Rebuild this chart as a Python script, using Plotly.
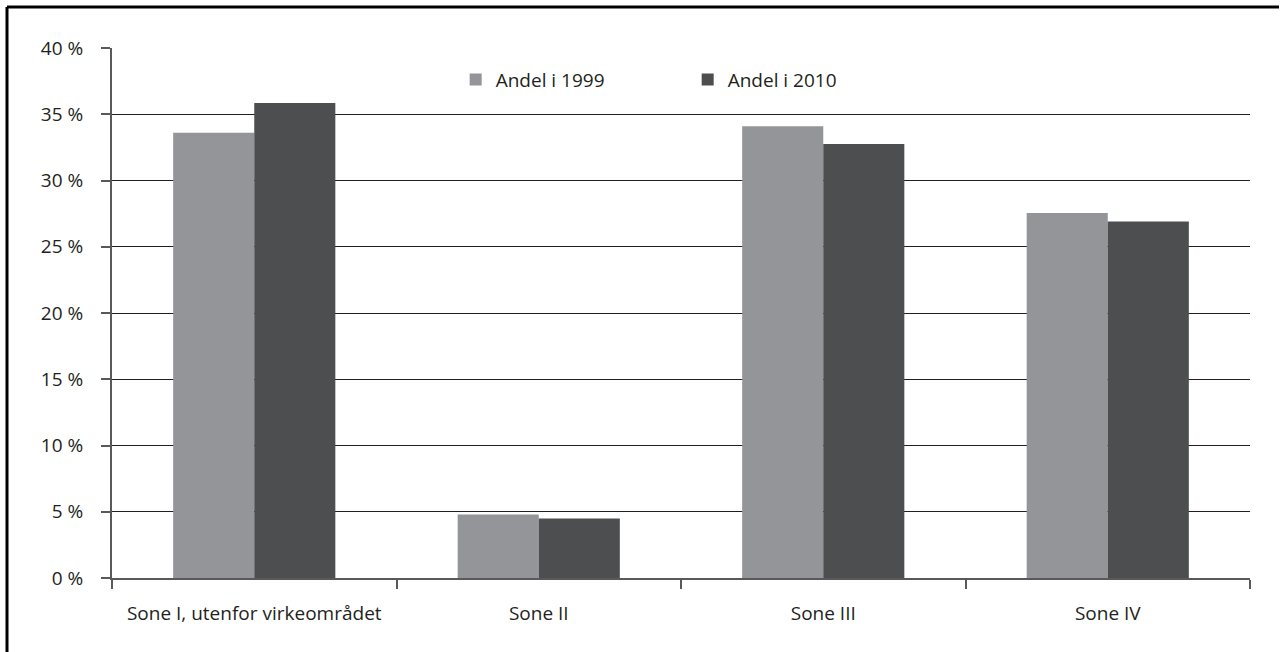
import plotly.graph_objects as go

categories = ["Sone I, utenfor virkeområdet", "Sone II", "Sone III", "Sone IV"]
andel_1999 = [33.6, 4.8, 34.1, 27.55]
andel_2010 = [35.85, 4.5, 32.75, 26.9]
series_names = ["Andel i 1999", "Andel i 2010"]
y_ticks = [0, 5, 10, 15, 20, 25, 30, 35, 40]
y_tick_labels = [f"{v} %" for v in y_ticks]

W, H = 1284, 652
ml, mr, mt, mb = 112, 34, 48, 74
pw, ph = W - ml - mr, H - mt - mb

FAM = "Open Sans, Noto Sans, sans-serif"
TXT = "#231f20"
FS = 19

fig = go.Figure()
fig.add_trace(go.Bar(x=categories, y=andel_1999, name=series_names[0],
                     marker=dict(color="#939598", line=dict(width=0))))
fig.add_trace(go.Bar(x=categories, y=andel_2010, name=series_names[1],
                     marker=dict(color="#4d4e50", line=dict(width=0))))

fig.update_layout(
    width=W, height=H,
    margin=dict(l=ml, r=mr, t=mt, b=mb),
    paper_bgcolor="white", plot_bgcolor="white",
    barmode="group", bargap=0.43, bargroupgap=0,
    font=dict(family=FAM, size=FS, color=TXT),
    showlegend=True,
    legend=dict(orientation="h", x=0.302, y=0.976, xanchor="left", yanchor="top",
                entrywidth=187, entrywidthmode="pixels",
                font=dict(family=FAM, size=FS, color=TXT),
                bgcolor="rgba(0,0,0,0)", itemwidth=30, traceorder="normal"),
    xaxis=dict(showline=True, linecolor="#58595b", linewidth=2,
               ticks="outside", tickson="boundaries", ticklen=9, tickwidth=2,
               tickcolor="#58595b", showgrid=False, ticklabelstandoff=17,
               tickfont=dict(family=FAM, size=FS, color=TXT)),
    yaxis=dict(range=[0, 40], tickmode="array", tickvals=y_ticks, ticktext=y_tick_labels,
               showline=True, linecolor="#58595b", linewidth=2,
               ticks="outside", ticklen=9, tickwidth=1.5, tickcolor="#58595b",
               showgrid=True, gridcolor="#231f20", gridwidth=1.2,
               zeroline=False, ticklabelstandoff=14,
               tickfont=dict(family=FAM, size=FS, color=TXT)),
)

# outer frame (top and left edges visible)
x_left = (7 - ml) / pw
x_right = (1279 - ml) / pw
y_top = 1 + (mt - 7) / ph
y_bottom = -(mb + 5) / ph
fig.add_shape(type="line", xref="paper", yref="paper", x0=x_left, x1=x_right,
              y0=y_top, y1=y_top, line=dict(color="black", width=3))
fig.add_shape(type="line", xref="paper", yref="paper", x0=x_left, x1=x_left,
              y0=y_top, y1=y_bottom, line=dict(color="black", width=3))

fig.write_html("out.html", config={"displayModeBar": False},
               post_script="document.body.style.margin='0';document.body.style.overflow='hidden';")
